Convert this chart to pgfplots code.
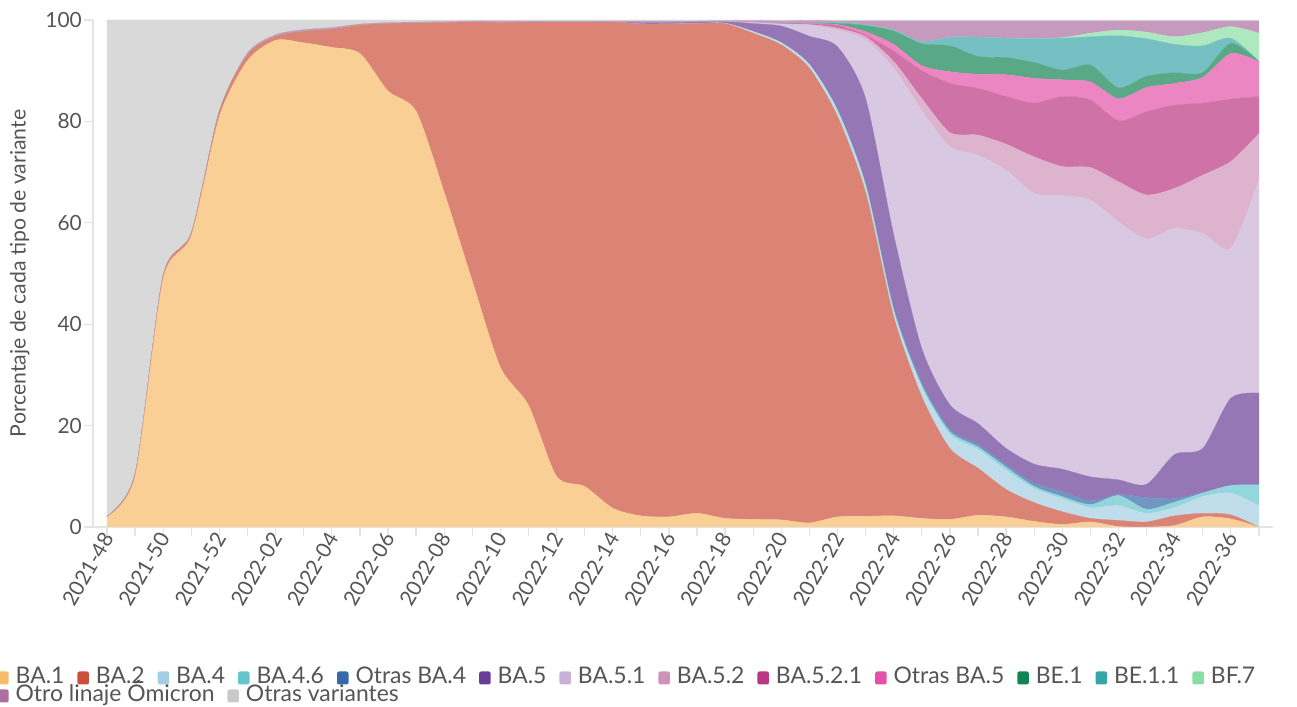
\documentclass[border=0pt]{standalone}
\usepackage{fontspec}
\setmainfont{Lato}
\usepackage{pgfplots}
\usepackage{pgfplotstable}
\pgfplotsset{compat=1.18}

\definecolor{txt}{HTML}{555555}
\definecolor{axl}{HTML}{E4E4E4}
\definecolor{lA}{HTML}{F6BA69}
\definecolor{lB}{HTML}{CC4F3B}
\definecolor{lC}{HTML}{A4CEE1}
\definecolor{lD}{HTML}{65C4CC}
\definecolor{lE}{HTML}{3569A9}
\definecolor{lF}{HTML}{693D97}
\definecolor{lG}{HTML}{C9B0D6}
\definecolor{lH}{HTML}{D092B9}
\definecolor{lI}{HTML}{B93683}
\definecolor{lJ}{HTML}{E452A8}
\definecolor{lK}{HTML}{128352}
\definecolor{lL}{HTML}{38A5A9}
\definecolor{lM}{HTML}{8ADEA4}
\definecolor{lN}{HTML}{AC6FA2}
\definecolor{lO}{HTML}{C9C9C9}
\colorlet{fA}{lA!70!white}
\colorlet{fB}{lB!70!white}
\colorlet{fC}{lC!70!white}
\colorlet{fD}{lD!70!white}
\colorlet{fE}{lE!70!white}
\colorlet{fF}{lF!70!white}
\colorlet{fG}{lG!70!white}
\colorlet{fH}{lH!70!white}
\colorlet{fI}{lI!70!white}
\colorlet{fJ}{lJ!70!white}
\colorlet{fK}{lK!70!white}
\colorlet{fL}{lL!70!white}
\colorlet{fM}{lM!70!white}
\colorlet{fN}{lN!70!white}
\colorlet{fO}{lO!70!white}

% week index 0 = 2021-48 ... 40 = 2022-36, 41 = 2022-37
\pgfplotstableread{
i  BAa  BAb  BAc  BAd  OBAc BAe  BAea BAeb BAebc OBAe BEa BEaa BFg Otro Otras
0  2.0  0.1  0    0    0    0    0    0    0    0    0    0    0    0    97.9
1  10.0 0.5  0    0    0    0    0    0    0    0    0    0    0    0    89.5
2  49.0 0.6  0    0    0    0    0    0    0    0    0    0    0    0    50.4
3  57.5 0.5  0    0    0    0    0    0    0    0    0    0    0    0    42.0
4  81.0 1.0  0    0    0    0    0    0    0    0    0    0    0    0    18.0
5  92.0 1.2  0    0    0    0    0    0    0    0    0    0    0    0.3  6.5
6  96.0 0.8  0    0    0    0    0    0    0    0    0    0    0    0.3  2.9
7  95.5 2.3  0    0    0    0    0    0    0    0    0    0    0    0.3  1.9
8  94.6 3.6  0    0    0    0    0    0    0    0    0    0    0    0.3  1.5
9  93.4 5.6  0    0    0    0    0    0    0    0    0    0    0    0.2  0.8
10 86.0 13.3 0    0    0    0    0    0    0    0    0    0    0    0.2  0.5
11 82.0 17.4 0    0    0    0    0    0    0    0    0    0    0    0.2  0.4
12 66.0 33.5 0    0    0    0    0    0    0    0    0    0    0    0.2  0.3
13 48.5 51.1 0    0    0    0    0    0    0    0    0    0    0    0.2  0.2
14 31.5 68.0 0    0    0    0    0    0    0    0    0    0    0    0.3  0.2
15 24.0 75.6 0    0    0    0    0    0    0    0    0    0    0    0.2  0.2
16 10.0 89.6 0    0    0    0    0    0    0    0    0    0    0    0.2  0.2
17 8.0  91.6 0    0    0    0    0    0    0    0    0    0    0    0.2  0.2
18 3.7  95.9 0    0    0    0    0    0    0    0    0    0    0    0.2  0.2
19 2.2  97.0 0    0    0    0.3  0    0    0    0    0    0    0    0.3  0.2
20 2.0  97.2 0    0    0    0.3  0    0    0    0    0    0    0    0.3  0.2
21 2.7  96.6 0    0    0    0.3  0    0    0    0    0    0    0    0.2  0.2
22 1.7  97.6 0.05 0    0    0.3  0    0    0    0    0    0    0    0.2  0.15
23 1.5  95.9 0.3  0    0    1.6  0.2  0    0    0    0    0    0    0.4  0.1
24 1.4  93.7 0.4  0    0    3.3  0.4  0    0    0    0    0    0    0.6  0.2
25 0.8  89.7 0.7  0    0    5.6  2.2  0.1  0.1  0.1  0.1  0    0    0.5  0.1
26 2.0  79.0 1.0  0.2  0.2  12.3 3.3  0.4  0.5  0.2  0.25 0.15 0    0.3  0.2
27 2.1  63.9 1.2  0.3  0.3  16.7 11.6 0.6  0.3  0.7  1.2  0.2  0    0.7  0.2
28 2.2  39.3 1.0  0.3  0.5  14.3 32.9 1.3  2.0  1.4  2.6  0.2  0    1.8  0.2
29 1.7  24.0 1.9  0.3  0.5  6.8  47.0 2.3  5.5  1.0  4.3  0.4  0    4.1  0.2
30 1.5  14.0 2.8  0.5  0.5  4.8  50.9 2.8  9.7  2.3  5.1  1.7  0    3.2  0.2
31 2.3  9.3  3.7  0.5  0.5  4.1  53.0 3.9  9.2  2.8  3.5  3.8  0    3.2  0.2
32 2.0  5.4  3.8  0.6  0.5  3.2  54.9 5.1  9.4  4.3  3.4  3.8  0    3.4  0.2
33 1.1  3.7  2.8  0.4  0.7  3.7  53.4 7.2  10.6 4.9  3.1  4.7  0    3.5  0.2
34 0.5  2.5  2.6  0.4  1.0  4.4  54.0 5.7  13.8 3.3  1.9  6.3  0.1  3.3  0.2
35 1.0  0.7  2.1  0.6  0.8  4.7  54.6 6.4  13.3 3.6  3.3  5.6  0.7  2.4  0.2
36 0.1  1.2  2.9  2.0  0.2  2.9  50.9 7.9  12.0 4.4  2.1  10.3 1.1  1.8  0.2
37 0.0  1.0  1.7  0.8  2.3  2.6  48.4 8.7  16.4 4.8  2.2  7.4  1.3  2.2  0.2
38 0.3  1.9  1.7  1.0  0.7  8.7  44.6 7.9  16.4 4.3  2.1  5.6  1.5  3.1  0.2
39 2.0  0.7  3.3  0.7  0.1  8.7  42.4 11.5 14.2 5.1  0.9  5.3  2.6  2.3  0.2
40 1.6  0.8  4.3  1.5  0.0  17.2 29.6 17.1 12.3 9.0  2.0  1.0  2.3  1.1  0.2
41 0.0  0.0  4.2  4.1  0.0  18.1 42.1 9.1  7.3  6.9  0.0  0.0  5.6  2.4  0.2
}\datatab

\pgfplotsset{
  lay/.style={fill=#1, draw=#1, line width=0.3bp, smooth, tension=0.45, forget plot},
  legsty/.style={
    legend image code/.code={\fill[##1, rounded corners=2bp] (0bp,-6.5bp) rectangle (11.5bp,6.5bp);},
    legend style={at={(axis description cs:-0.0814,#1)}, anchor=west, draw=none, fill=none,
      font=\fontsize{23}{27}\selectfont, text=txt, inner sep=0pt,
      nodes={inner sep=0pt, text height=16bp, text depth=5bp},
      /tikz/every odd column/.style={column sep=7bp},
      /tikz/every even column/.style={column sep=13bp}},
  },
}

\begin{document}
\begin{tikzpicture}
\path[use as bounding box] (0bp,0bp) rectangle (1297bp,707bp);
\begin{axis}[
  at={(93bp,180bp)}, anchor=south west,
  scale only axis, width=1180bp, height=507bp,
  xmin=-0.5, xmax=41.5, ymin=0, ymax=100,
  stack plots=y,
  axis x line*=bottom, axis y line*=left,
  axis line style={draw=axl, line width=1.3bp},
  tick align=outside,
  major tick length=9bp, minor tick length=9bp,
  every tick/.style={draw=axl, line width=1.3bp},
  xtick={0,2,...,40}, minor xtick={1,3,...,41},
  xticklabels={2021-48,2021-50,2021-52,2022-02,2022-04,2022-06,2022-08,2022-10,2022-12,2022-14,2022-16,2022-18,2022-20,2022-22,2022-24,2022-26,2022-28,2022-30,2022-32,2022-34,2022-36},
  ytick={0,20,...,100},
  /pgf/number format/assume math mode=true,
  tick label style={font=\fontsize{21}{25}\selectfont, text=txt},
  x tick label style={rotate=60, anchor=east, inner sep=1bp, xshift=3bp},
  y tick label style={inner sep=2bp},
  ylabel={Porcentaje de cada tipo de variante},
  every axis y label/.style={at={(axis description cs:-0.062,0.5)}, rotate=90, anchor=center,
    font=\fontsize{21.3}{24}\selectfont, text=txt},
  legend columns=13,
  legsty=-0.2978,
]
\addplot[lay=fA] table[x=i, y=BAa] {\datatab} \closedcycle;
\addplot[lay=fB] table[x=i, y=BAb] {\datatab} \closedcycle;
\addplot[lay=fC] table[x=i, y=BAc] {\datatab} \closedcycle;
\addplot[lay=fD] table[x=i, y=BAd] {\datatab} \closedcycle;
\addplot[lay=fE] table[x=i, y=OBAc] {\datatab} \closedcycle;
\addplot[lay=fF] table[x=i, y=BAe] {\datatab} \closedcycle;
\addplot[lay=fG] table[x=i, y=BAea] {\datatab} \closedcycle;
\addplot[lay=fH] table[x=i, y=BAeb] {\datatab} \closedcycle;
\addplot[lay=fI] table[x=i, y=BAebc] {\datatab} \closedcycle;
\addplot[lay=fJ] table[x=i, y=OBAe] {\datatab} \closedcycle;
\addplot[lay=fK] table[x=i, y=BEa] {\datatab} \closedcycle;
\addplot[lay=fL] table[x=i, y=BEaa] {\datatab} \closedcycle;
\addplot[lay=fM] table[x=i, y=BFg] {\datatab} \closedcycle;
\addplot[lay=fN] table[x=i, y=Otro] {\datatab} \closedcycle;
\addplot[lay=fO] table[x=i, y=Otras] {\datatab} \closedcycle;
\addlegendimage{fill=lA, draw=none}\addlegendentry{BA.1}
\addlegendimage{fill=lB, draw=none}\addlegendentry{BA.2}
\addlegendimage{fill=lC, draw=none}\addlegendentry{BA.4}
\addlegendimage{fill=lD, draw=none}\addlegendentry{BA.4.6}
\addlegendimage{fill=lE, draw=none}\addlegendentry{Otras BA.4}
\addlegendimage{fill=lF, draw=none}\addlegendentry{BA.5}
\addlegendimage{fill=lG, draw=none}\addlegendentry{BA.5.1}
\addlegendimage{fill=lH, draw=none}\addlegendentry{BA.5.2}
\addlegendimage{fill=lI, draw=none}\addlegendentry{BA.5.2.1}
\addlegendimage{fill=lJ, draw=none}\addlegendentry{Otras BA.5}
\addlegendimage{fill=lK, draw=none}\addlegendentry{BE.1}
\addlegendimage{fill=lL, draw=none}\addlegendentry{BE.1.1}
\addlegendimage{fill=lM, draw=none}\addlegendentry{BF.7}
\end{axis}
\begin{axis}[
  at={(93bp,180bp)}, anchor=south west,
  scale only axis, width=1180bp, height=507bp,
  hide axis, xmin=0, xmax=1, ymin=0, ymax=1,
  legend columns=2,
  legsty=-0.3333,
]
\addlegendimage{fill=lN, draw=none}\addlegendentry{Otro linaje Ómicron}
\addlegendimage{fill=lO, draw=none}\addlegendentry{Otras variantes}
\end{axis}
\end{tikzpicture}
\end{document}
